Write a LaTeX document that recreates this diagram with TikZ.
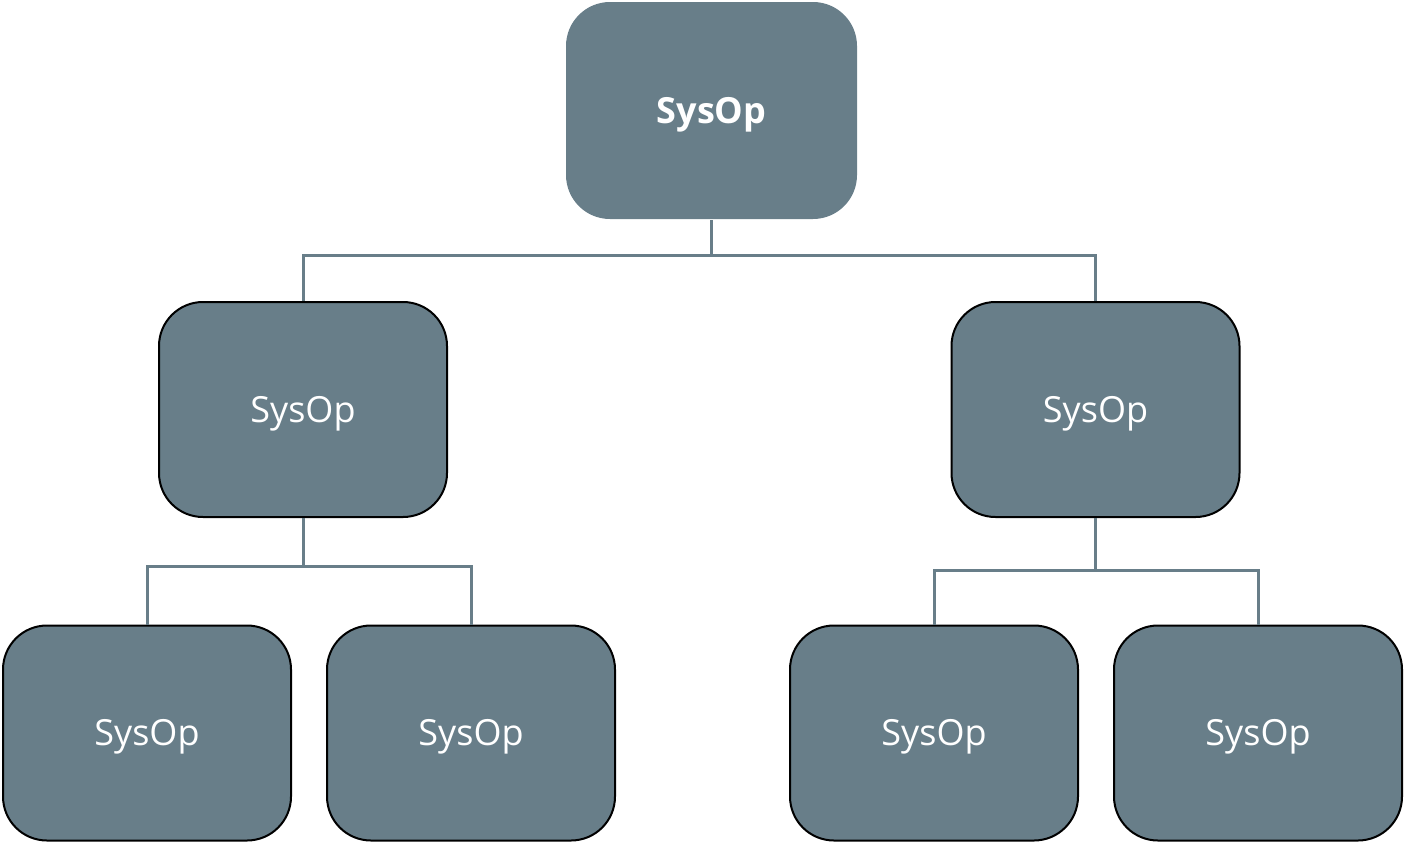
\documentclass[tikz,border=0pt]{standalone}
\usepackage{fontspec}
\setmainfont{Open Sans}
\definecolor{boxfill}{HTML}{687E89}
\definecolor{conncol}{HTML}{687E89}
\begin{document}
\begin{tikzpicture}[x=1pt,y=-1pt,
  sbox/.style={rectangle, rounded corners=44pt, fill=boxfill, draw=black, line width=2pt,
    minimum width=288pt, minimum height=215pt, inner sep=0pt, text=white,
    text height=25.7pt, text depth=0pt,
    font=\fontsize{36}{42}\selectfont},
  topbox/.style={sbox, draw=none, minimum width=291pt, minimum height=217pt, font=\fontsize{36}{42}\selectfont\bfseries},
  conn/.style={draw=conncol, line width=3pt}]
\useasboundingbox (0,0) rectangle (1404,844);
\node[topbox] (top) at (711.5,110.5) {SysOp};
\node[sbox] (ml) at (303,409.5) {SysOp};
\node[sbox] (mr) at (1095.5,409.5) {SysOp};
\node[sbox] (l1) at (147,733) {SysOp};
\node[sbox] (l2) at (471,733) {SysOp};
\node[sbox] (r1) at (934,733) {SysOp};
\node[sbox] (r2) at (1258,733) {SysOp};
\coordinate (b1) at (711.5,255);
\coordinate (b2) at (303,566);
\coordinate (b3) at (1095.5,570);
\draw[conn] (top.south) -- (b1);
\draw[conn] (ml.north) |- (b1) -| (mr.north);
\draw[conn] (ml.south) -- (b2);
\draw[conn] (l1.north) |- (b2) -| (l2.north);
\draw[conn] (mr.south) -- (b3);
\draw[conn] (r1.north) |- (b3) -| (r2.north);
\end{tikzpicture}
\end{document}
